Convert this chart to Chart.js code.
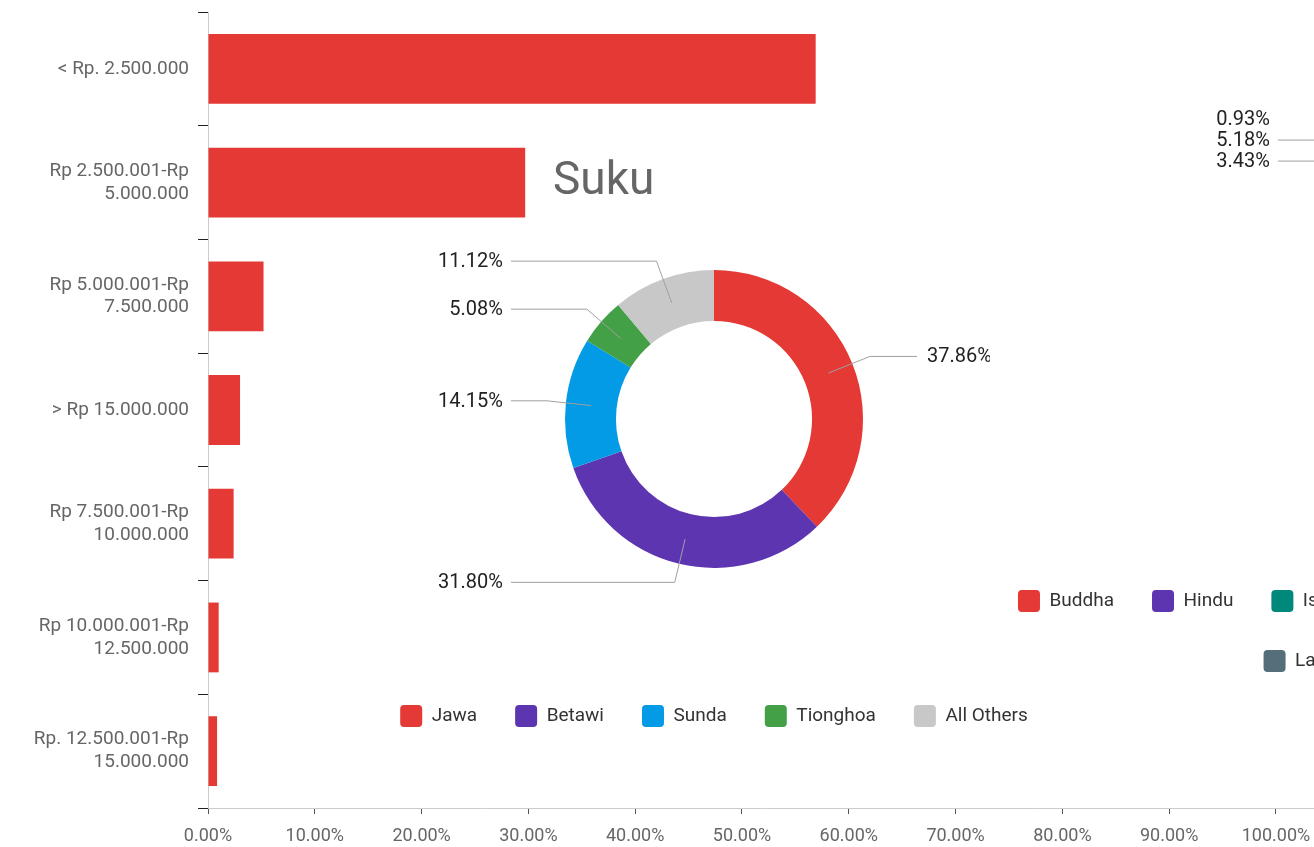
<!DOCTYPE html>
<html>
<head>
<meta charset="utf-8">
<script src="https://cdn.jsdelivr.net/npm/chart.js@4.4.1/dist/chart.umd.min.js"></script>
<style>
  html, body { margin: 0; padding: 0; width: 1314px; height: 847px; overflow: hidden; background: #fff; }
  canvas { position: absolute; }
  #barChart { left: 0; top: 0; }
  #sukuChart { left: 330px; top: 140px; clip-path: polygon(0 0, 660px 0, 660px 300px, 100% 300px, 100% 100%, 0 100%); }
  #agamaChart { left: 1150px; top: 1px; }
  #agamaLegend { left: 962px; top: 552px; }
  #sukuTitle { position: absolute; left: 553px; top: 153px; font: 46px Roboto, sans-serif; line-height: 50px; color: #666; }
</style>
</head>
<body>
<canvas id="barChart" width="1314" height="847"></canvas>
<div id="sukuTitle">Suku</div>
<canvas id="sukuChart" width="768" height="597"></canvas>
<canvas id="agamaChart" width="664" height="606"></canvas>
<canvas id="agamaLegend" width="700" height="280"></canvas>
<script>
// pendapatan per bulan (persen responden)
const incomeLabels = [
  ['< Rp. 2.500.000'],
  ['Rp 2.500.001-Rp', '5.000.000'],
  ['Rp 5.000.001-Rp', '7.500.000'],
  ['> Rp 15.000.000'],
  ['Rp 7.500.001-Rp', '10.000.000'],
  ['Rp 10.000.001-Rp', '12.500.000'],
  ['Rp. 12.500.001-Rp', '15.000.000']
];
const incomeValues = [56.9, 29.7, 5.2, 3.0, 2.4, 1.0, 0.85];

// suku
const sukuLabels = ['Jawa', 'Betawi', 'Sunda', 'Tionghoa', 'All Others'];
const sukuValues = [37.86, 31.80, 14.15, 5.08, 11.12];
const sukuColors = ['#e53935', '#5e35b1', '#039be5', '#43a047', '#c8c8c8'];

// agama (sebagian besar di luar layar)
const agamaLabels = ['Buddha', 'Hindu', 'Islam', 'Katolik', 'Kristen', 'Lainnya'];
const agamaValues = [4.2, 0.6, 85.66, 3.43, 5.18, 0.93];
const agamaColors = ['#e53935', '#5e35b1', '#00897b', '#fb8c00', '#1e88e5', '#546e7a'];

Chart.defaults.font.family = 'Roboto, sans-serif';
Chart.defaults.animation = false;
Chart.defaults.plugins.tooltip.enabled = false;

// label persen dengan garis penunjuk
const leaderLabels = {
  id: 'leaderLabels',
  afterDatasetsDraw(chart, args, opts) {
    if (!opts.reach) return;
    const ctx = chart.ctx;
    const meta = chart.getDatasetMeta(0);
    const values = chart.data.datasets[0].data;
    const items = meta.data.map((arc, i) => {
      const p = arc.getProps(['x', 'y', 'startAngle', 'endAngle', 'innerRadius', 'outerRadius'], true);
      const mid = (p.startAngle + p.endAngle) / 2;
      const rMid = (p.innerRadius + p.outerRadius) / 2;
      const rOut = p.outerRadius + opts.elbow;
      const y1 = p.y + Math.sin(mid) * rOut;
      return {
        v: values[i],
        cx: p.x,
        x0: p.x + Math.cos(mid) * rMid, y0: p.y + Math.sin(mid) * rMid,
        x1: p.x + Math.cos(mid) * rOut, y1: y1,
        ly: y1,
        right: Math.cos(mid) >= 0
      };
    });
    // geser label yang bertumpuk: yang lebih kecil mengalah
    [true, false].forEach(side => {
      const g = items.filter(it => it.right === side).sort((a, b) => a.ly - b.ly);
      for (let k = 0; k < g.length - 1; k++) {
        if (g[k + 1].ly - g[k].ly < opts.gap) {
          if (g[k].v < g[k + 1].v) g[k].ly = g[k + 1].ly - opts.gap;
          else g[k + 1].ly = g[k].ly + opts.gap;
        }
      }
      for (let k = g.length - 1; k > 0; k--) {
        if (g[k].ly - g[k - 1].ly < opts.gap) g[k - 1].ly = g[k].ly - opts.gap;
      }
    });
    ctx.save();
    ctx.font = opts.size + 'px Roboto, sans-serif';
    ctx.textBaseline = 'middle';
    items.forEach(it => {
      const endX = it.right ? it.cx + opts.reach : it.cx - opts.reach;
      if (Math.abs(it.ly - it.y1) < 10) {
        ctx.strokeStyle = '#a0a0a0';
        ctx.lineWidth = 1;
        ctx.beginPath();
        ctx.moveTo(it.x0, it.y0);
        ctx.lineTo(it.x1, it.ly);
        ctx.lineTo(endX, it.ly);
        ctx.stroke();
      }
      ctx.fillStyle = '#222';
      ctx.textAlign = it.right ? 'left' : 'right';
      ctx.fillText(it.v.toFixed(2) + '%', it.right ? endX + 10 : endX - 8, it.ly + 1);
    });
    ctx.restore();
  }
};

new Chart(document.getElementById('barChart'), {
  type: 'bar',
  data: {
    labels: incomeLabels,
    datasets: [{
      data: incomeValues,
      backgroundColor: '#e53935',
      categoryPercentage: 1,
      barPercentage: 0.614
    }]
  },
  options: {
    indexAxis: 'y',
    responsive: false,
    layout: { padding: { top: 12, left: 0, right: 0, bottom: 0 } },
    plugins: { legend: { display: false } },
    scales: {
      x: {
        min: 0,
        max: 103.56,
        ticks: {
          stepSize: 10,
          includeBounds: false,
          maxRotation: 0,
          color: '#666',
          font: { size: 18 },
          padding: 12,
          callback: v => v.toFixed(2) + '%'
        },
        grid: { drawOnChartArea: false, tickLength: 6, color: '#555' },
        border: { color: '#ccc' },
        afterFit: s => { s.height = 39; s.paddingRight = 0; }
      },
      y: {
        ticks: { color: '#666', font: { size: 19 }, padding: 9 },
        grid: { drawOnChartArea: false, tickLength: 10, color: '#222', offset: true },
        border: { color: '#ccc' },
        afterFit: s => { s.width = 208; s.paddingTop = 0; s.paddingBottom = 0; }
      }
    }
  }
});

new Chart(document.getElementById('sukuChart'), {
  type: 'doughnut',
  data: {
    labels: sukuLabels,
    datasets: [{ data: sukuValues, backgroundColor: sukuColors, borderWidth: 0 }]
  },
  options: {
    responsive: false,
    radius: 149,
    cutout: '65.8%',
    layout: { padding: { top: 31 } },
    plugins: {
      legend: {
        position: 'bottom',
        labels: {
          boxWidth: 22, boxHeight: 22, padding: 38,
          useBorderRadius: true, borderRadius: 4,
          color: '#333', font: { size: 19 }
        }
      },
      leaderLabels: { reach: 203, elbow: 19, gap: 21, size: 20 }
    }
  },
  plugins: [leaderLabels]
});

new Chart(document.getElementById('agamaChart'), {
  type: 'doughnut',
  data: {
    labels: agamaLabels,
    datasets: [{ data: agamaValues, backgroundColor: agamaColors, borderWidth: 0 }]
  },
  options: {
    responsive: false,
    radius: 149,
    cutout: '65.8%',
    plugins: {
      legend: { display: false },
      leaderLabels: { reach: 204, elbow: 19, gap: 21, size: 20 }
    }
  },
  plugins: [leaderLabels]
});

// legenda agama (grafik agama sendiri berada di luar layar)
new Chart(document.getElementById('agamaLegend'), {
  type: 'doughnut',
  data: {
    labels: agamaLabels,
    datasets: [{ data: agamaValues, backgroundColor: agamaColors, borderWidth: 0 }]
  },
  options: {
    responsive: false,
    radius: 0,
    plugins: {
      legend: {
        position: 'top',
        labels: {
          boxWidth: 22, boxHeight: 22, padding: 38,
          useBorderRadius: true, borderRadius: 4,
          color: '#333', font: { size: 19 }
        }
      }
    }
  }
});
</script>
</body>
</html>
